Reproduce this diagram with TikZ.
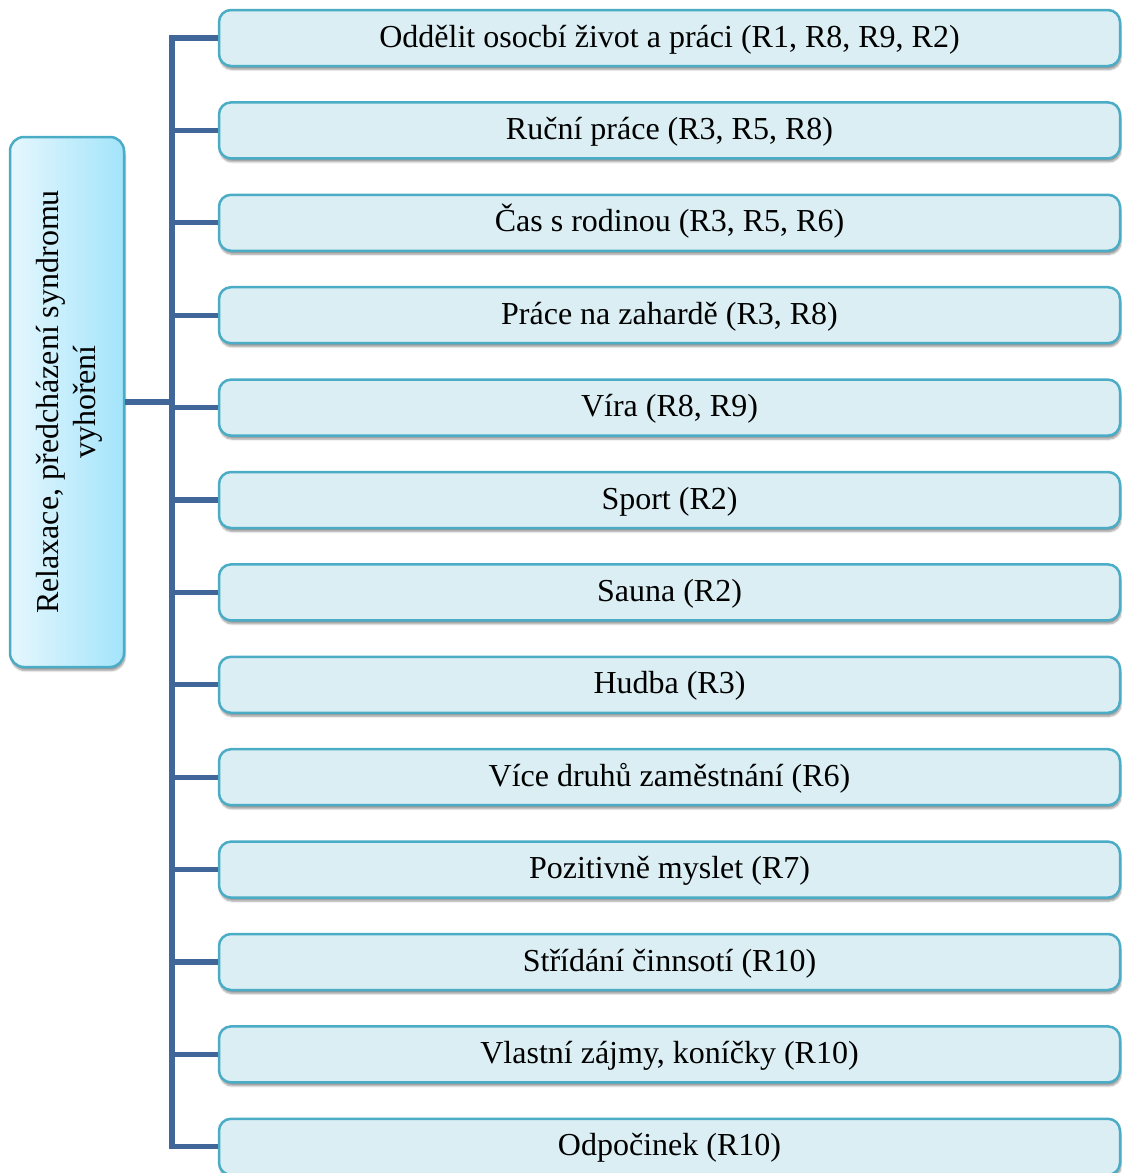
\documentclass[tikz,border=0pt]{standalone}
\usepackage{fontspec}
\setmainfont{Liberation Serif}
\usetikzlibrary{shadows.blur}
\definecolor{boxfill}{HTML}{DAEEF3}
\definecolor{boxline}{HTML}{4BACC6}
\definecolor{conncol}{HTML}{41669A}
\definecolor{gradL}{HTML}{E6F7FD}
\definecolor{gradR}{HTML}{A3E4FB}
\tikzset{
  itembox/.style={draw=boxline, line width=2.5pt, fill=boxfill, rounded corners=12pt,
    minimum width=901pt, minimum height=56pt, inner sep=0pt,
    text height=25pt, text depth=7pt,
    blur shadow={shadow xshift=1pt, shadow yshift=-3.5pt, shadow blur steps=6, shadow opacity=40},
    font=\fontsize{32}{37}\selectfont},
  rootbox/.style={draw=boxline, line width=2.5pt, rounded corners=14pt,
    left color=gradL, right color=gradR,
    minimum width=114pt, minimum height=530pt, inner sep=0pt,
    blur shadow={shadow xshift=1pt, shadow yshift=-3.5pt, shadow blur steps=6, shadow opacity=40}},
  roottext/.style={rotate=90, align=center, font=\fontsize{32}{37}\selectfont},
  conn/.style={draw=conncol, line width=5.3pt}
}
\begin{document}
\begin{tikzpicture}[x=1pt, y=-1pt]
\useasboundingbox (0,0) rectangle (1122,1173);

% root box with the rotated title
\node[rootbox] (root) at (67,402) {};
\node[roottext] (roottxt) at (69,402) {Relaxace, předcházení syndromu\\vyhoření};

% spine junction
\coordinate (spine) at (172,402);

% item boxes
\foreach \i/\t in {
  0/{Oddělit osocbí život a práci (R1, R8, R9, R2)},
  1/{Ruční práce (R3, R5, R8)},
  2/{Čas s rodinou (R3, R5, R6)},
  3/{Práce na zahardě (R3, R8)},
  4/{Víra (R8, R9)},
  5/{Sport (R2)},
  6/{Sauna (R2)},
  7/{Hudba (R3)},
  8/{Více druhů zaměstnání (R6)},
  9/{Pozitivně myslet (R7)},
  10/{Střídání činnsotí (R10)},
  11/{Vlastní zájmy, koníčky (R10)},
  12/{Odpočinek (R10)}}
{
  \node[itembox] (b\i) at (669.5, 38+92.4*\i) {\t};
}

% connectors
\draw[conn] (root.east) -- (spine);
\draw[conn] (b0.west) -- (b0.west -| spine) -- (b12.west -| spine) -- (b12.west);
\foreach \i in {1,...,11} {
  \draw[conn] (b\i.west -| spine) -- (b\i.west);
}
\end{tikzpicture}
\end{document}
